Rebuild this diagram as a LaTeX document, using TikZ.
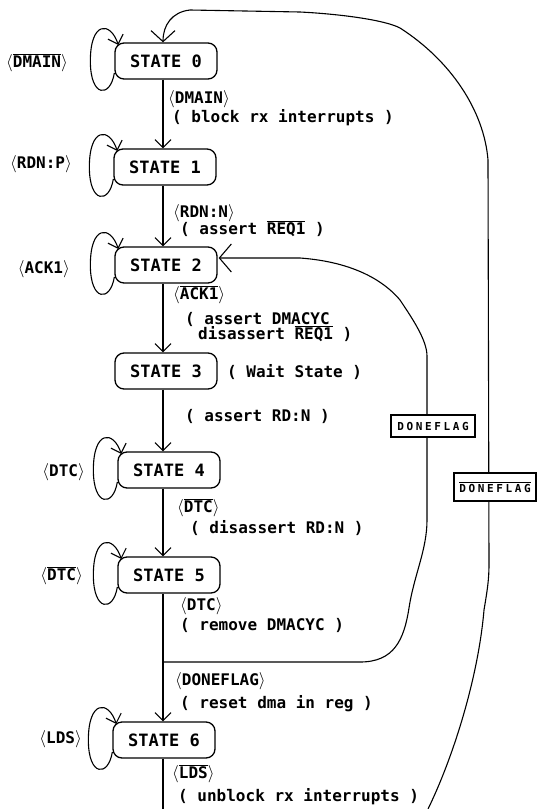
\documentclass[tikz,border=0pt]{standalone}
\usepackage{fontspec}
\newfontfamily\dmono{DejaVu Sans Mono}
\newfontfamily\dmonosp[LetterSpace=24]{DejaVu Sans Mono}
\usetikzlibrary{arrows.meta,calc}
% signal names in angle brackets, and active-low signals with a bar
\newcommand\ang[1]{$\langle$#1$\rangle$}
\newcommand\ovl[1]{$\overline{\mbox{#1}}$}
% a self-loop hanging on the left side of a state box
\newcommand\selfloop[1]{%
  \draw[conn] ($(#1.west)+(0,12)$)
    .. controls ($(#1.west)+(-4,37)$) and ($(#1.west)+(-24,37)$) .. ($(#1.west)+(-24,0)$)
    .. controls ($(#1.west)+(-24,-40)$) and ($(#1.west)+(-4,-40)$) .. ($(#1.west)+(4,-16)$);}
\tikzset{
  stbox/.style={draw, line width=1.3pt, rounded corners=9pt, minimum width=102pt,
    minimum height=36pt, inner sep=0pt, font=\dmono\bfseries\fontsize{17}{17}\selectfont},
  lab/.style={inner sep=0pt, anchor=base west, font=\dmono\bfseries\fontsize{16}{16}\selectfont},
  sidelab/.style={inner sep=0pt, anchor=base east, font=\dmono\bfseries\fontsize{16}{16}\selectfont},
  flagbox/.style={draw, fill=white, line width=1.2pt, inner sep=0pt, minimum height=22pt,
    font=\dmonosp\bfseries\fontsize{11}{11}\selectfont},
  conn/.style={line width=1.1pt, -{Straight Barb[length=8pt,width=16pt]}},
  plainline/.style={line width=1.1pt},
}
\begin{document}
\begin{tikzpicture}[x=1pt,y=-1pt]
\fill[white] (0,0) rectangle (537,809);
\useasboundingbox (0,0) rectangle (537,809);

% states
\node[stbox] (s0) at (166,61)  {STATE 0};
\node[stbox] (s1) at (165,167) {STATE 1};
\node[stbox] (s2) at (166,265) {STATE 2};
\node[stbox] (s3) at (166,371) {STATE 3};
\node[stbox] (s4) at (169,470) {STATE 4};
\node[stbox] (s5) at (169,575) {STATE 5};
\node[stbox] (s6) at (164,740) {STATE 6};

% main vertical flow
\coordinate (mx) at (163,0);
\draw[conn] (s0.south -| mx) -- (s1.north -| mx);
\draw[conn] (s1.south -| mx) -- (s2.north -| mx);
\draw[conn] (s2.south -| mx) -- (s3.north -| mx);
\draw[conn] (s3.south -| mx) -- (s4.north -| mx);
\draw[conn] (s4.south -| mx) -- (s5.north -| mx);
\draw[conn] (s5.south -| mx) -- (s6.north -| mx);
\coordinate (tail) at (163,809);
\draw[plainline] (s6.south -| mx) -- (tail);

% self-loops
\selfloop{s0}
\selfloop{s1}
\selfloop{s2}
\selfloop{s4}
\selfloop{s5}
\selfloop{s6}

% DONEFLAG return to state 2
\coordinate (br) at (163,662);
\draw[line width=1.1pt, -{Straight Barb[length=12pt,width=28pt]}] (br) -- (360,662)
  .. controls (394,662) and (404,640) .. (409,608)
  .. controls (414,575) and (427,550) .. (427,520) -- (427,356)
  .. controls (427,340) and (412,318) .. (400,300)
  .. controls (385,282) and (355,262) .. (300,258) -- ($(s2.east)+(1,-7)$);

% DONEFLAG-bar return to state 0
\coordinate (ob) at (428,809);
\draw[line width=1.1pt, -{Straight Barb[length=11pt,width=24pt]}] (ob)
  .. controls (452,760) and (478,680) .. (484,610)
  .. controls (487,592) and (489,580) .. (489,565) -- (488,160)
  .. controls (484,110) and (450,60) .. (400,28)
  .. controls (385,20) and (340,14) .. (300,12) -- (190,10)
  .. controls (172,12) and (163,25) .. (s0.north -| mx);

% condition boxes on the return paths
\node[flagbox, minimum width=84pt] (f1) at (433,426) {DONEFLAG};
\node[flagbox, minimum width=82pt, minimum height=28pt] (f2) at (495,487) {\ovl{DONEFLAG}};

% self-loop conditions
\node[sidelab] (l0) at (68,67.5)  {\ang{\ovl{DMAIN}}};
\node[sidelab] (l1) at (72,168.5) {\ang{RDN:P}};
\node[sidelab] (l2) at (70,273.5) {\ang{ACK1}};
\node[sidelab] (l4) at (85,476.5) {\ang{DTC}};
\node[sidelab] (l5) at (83,580.5) {\ang{\ovl{DTC}}};
\node[sidelab] (l6) at (82,743.5) {\ang{LDS}};

% transition conditions and actions
\node[lab] (t0a) at (168,103.5) {\ang{DMAIN}};
\node[lab] (t0b) at (172,122.5) {( block rx interrupts )};
\node[lab] (t1a) at (173,217.5) {\ang{RDN:N}};
\node[lab] (t1b) at (180,234.5) {( assert \ovl{REQ1} )};
\node[lab] (t2a) at (173,299.5) {\ang{\ovl{ACK1}}};
\node[lab] (t2b) at (185,324.5) {( assert DMACYC};
\node[lab] (t2c) at (198,339)   {disassert \ovl{REQ1} )};
\node[lab] (t3w) at (227,377.5) {( Wait State )};
\node[lab] (t3b) at (185,421.5) {( assert RD:N )};
\node[lab] (t4a) at (177,512.5) {\ang{\ovl{DTC}}};
\node[lab] (t4b) at (190,533.5) {( disassert RD:N )};
\node[lab] (t5a) at (180,610.5) {\ang{DTC}};
\node[lab] (t5b) at (180,630.5) {( remove DMACYC )};
\node[lab] (t5c) at (175,685.5) {\ang{DONEFLAG}};
\node[lab] (t5d) at (180,708.5) {( reset dma in reg )};
\node[lab] (t6a) at (172,778.5) {\ang{\ovl{LDS}}};
\node[lab] (t6b) at (178,801.5) {( unblock rx interrupts )};
\end{tikzpicture}
\end{document}
